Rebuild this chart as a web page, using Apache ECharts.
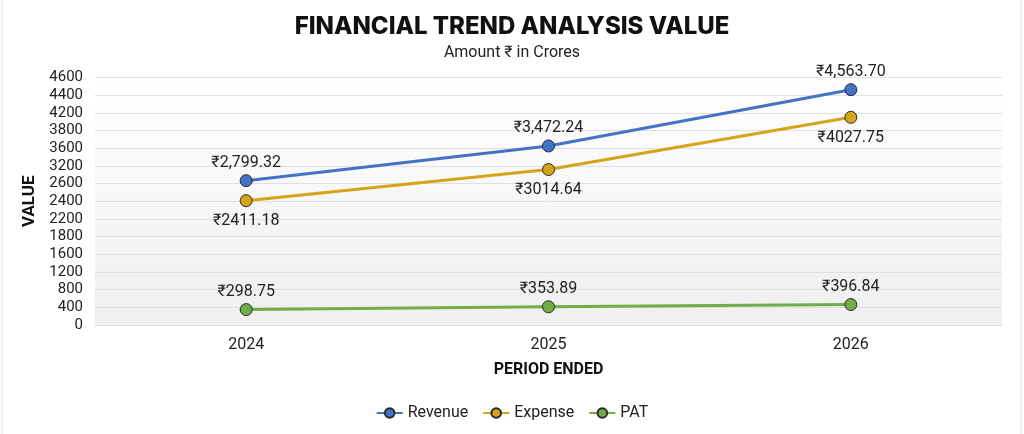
<!DOCTYPE html>
<html>
<head>
<meta charset="utf-8">
<script src="https://cdn.jsdelivr.net/npm/echarts@6/dist/echarts.min.js"></script>
<style>
  html, body { margin: 0; padding: 0; background: #fff; }
  #chart { width: 1024px; height: 434px; }
</style>
</head>
<body>
<div id="chart"></div>
<script>
const years = ['2024', '2025', '2026'];
const revenue = [2799.32, 3472.24, 4563.70];
const expense = [2411.18, 3014.64, 4027.75];
const pat = [298.75, 353.89, 396.84];
// the reference labels its evenly spaced gridlines with these
const yTickLabels = ['0', '400', '800', '1200', '1600', '1800', '2200', '2400',
    '2600', '3200', '3600', '3800', '4200', '4400', '4600'];

const yMax = 4800;
const yStep = yMax / (yTickLabels.length - 1);

function withCommas(v) {
    let parts = v.toFixed(2).split('.');
    parts[0] = parts[0].replace(/\B(?=(\d{3})+(?!\d))/g, ',');
    return '₹' + parts.join('.');
}
function plain(v) {
    return '₹' + v.toFixed(2);
}

let chart = echarts.init(document.getElementById('chart'));

const labelFont = { fontFamily: 'Roboto', fontSize: 16, color: '#222' };

function lineSeries(name, data, color, pos, dist, fmt) {
    return {
        name: name,
        type: 'line',
        data: data,
        symbol: 'circle',
        symbolSize: 12,
        lineStyle: { width: 3, color: color },
        itemStyle: { color: color, borderColor: '#2a2a2a', borderWidth: 1 },
        label: {
            show: true,
            position: pos,
            distance: dist,
            formatter: p => fmt(p.value),
            ...labelFont
        }
    };
}

let option = {
    animation: false,
    backgroundColor: '#ffffff',
    title: {
        text: 'FINANCIAL TREND ANALYSIS VALUE',
        subtext: 'Amount ₹ in Crores',
        left: 'center',
        top: 10,
        itemGap: 6,
        textStyle: { fontFamily: 'Inter', fontWeight: 800, fontSize: 24, color: '#111' },
        subtextStyle: { fontFamily: 'Roboto', fontSize: 16, color: '#222' }
    },
    graphic: [{
        type: 'rect',
        shape: { x: 2, y: -2, width: 1019, height: 440 },
        style: { fill: 'none', stroke: '#e3e3e3', lineWidth: 1 },
        silent: true
    }],
    legend: {
        bottom: 8,
        left: 'center',
        itemWidth: 26,
        itemHeight: 12,
        itemGap: 14,
        textStyle: { fontFamily: 'Roboto', fontSize: 16, color: '#222' },
        data: ['Revenue', 'Expense', 'PAT']
    },
    grid: {
        left: 95,
        right: 22,
        top: 77.5,
        bottom: 109,
        show: true,
        borderWidth: 0,
        backgroundColor: new echarts.graphic.LinearGradient(0, 0, 0, 1, [
            { offset: 0, color: '#ffffff' },
            { offset: 1, color: '#efefef' }
        ])
    },
    xAxis: {
        type: 'category',
        data: years,
        name: 'PERIOD ENDED',
        nameLocation: 'middle',
        nameGap: 37,
        nameTextStyle: { fontFamily: 'Roboto', fontWeight: 'bold', fontSize: 16, color: '#111' },
        axisLine: { show: true, lineStyle: { color: '#e0e0e0' } },
        axisTick: { show: false },
        axisLabel: { margin: 12, fontFamily: 'Roboto', fontSize: 16, color: '#222' }
    },
    yAxis: {
        type: 'value',
        min: 0,
        max: yMax,
        interval: yStep,
        name: 'VALUE',
        nameLocation: 'middle',
        nameGap: 54,
        nameTextStyle: { fontFamily: 'Roboto', fontWeight: 'bold', fontSize: 17, color: '#111' },
        axisLine: { show: false },
        axisTick: { show: false },
        splitLine: { lineStyle: { color: '#e0e0e0', width: 1 } },
        axisLabel: {
            margin: 12,
            fontFamily: 'Roboto',
            fontSize: 15,
            color: '#222',
            formatter: v => yTickLabels[Math.round(v / yStep)] || ''
        }
    },
    series: [
        lineSeries('Revenue', revenue, '#4472c4', 'top', 3, withCommas),
        lineSeries('Expense', expense, '#d4a419', 'bottom', 6, plain),
        lineSeries('PAT', pat, '#70ad47', 'top', 3, plain)
    ]
};

option && chart.setOption(option);
</script>
</body>
</html>
